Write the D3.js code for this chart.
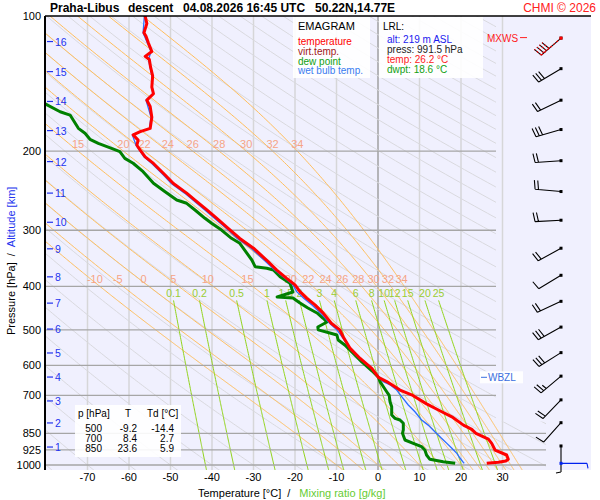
<!DOCTYPE html>
<html>
<head>
<meta charset="utf-8">
<script src="https://cdn.jsdelivr.net/npm/d3@7"></script>
<style>
body { margin: 0; background: #fff; }
svg { font-family: "Liberation Sans", Arial, sans-serif; }
</style>
</head>
<body>
<div class="canvas"></div>
<script>
// sounding: temperature [hPa, °C]
const tempP = [100,104,109,111,115,120,123,125,130,136,144,149,154,159,168,178,181,184,189,194,199,206,213,226,236,248,257,270,282,297,313,329,350,368,384,397,411,425,440,459,484,500,518,550,579,609,638,652,681,700,731,757,781,815,833,850,876,895,926,950,971,980,986,991.5];
const tempT = [-56.1,-55.7,-56.4,-55.9,-55.3,-54.5,-56.1,-55.1,-54.8,-54.3,-54.5,-54.1,-55.7,-54.9,-54.5,-54.9,-57.3,-59.0,-57.8,-58.1,-57.3,-56.1,-54.1,-51.3,-49.3,-46.1,-44.1,-41.3,-38.9,-36.1,-33.3,-30.0,-26.8,-24.4,-22.0,-20.0,-18.8,-17.2,-15.2,-13.2,-11.2,-9.2,-8.4,-6.7,-4.3,-1.5,0.1,2.1,5.3,8.4,11.7,14.9,17.8,20.6,22.6,23.6,26.6,27.4,28.2,31.0,31.4,30.8,29.0,26.2];

// dew point
const dewP = [156.5,163.4,166.2,177.9,182.5,188.2,192.1,197.1,200.5,207.5,212.8,222.2,235.8,246.2,256.9,261.3,270.4,282.2,289.5,299.7,312.7,320.8,340.6,349.5,361.7,364.7,367.9,380.7,393.8,411.8,422.5,424.7,435.7,447,458.6,470.6,480.3,492.8,500,508.2,513.4,526.7,540.4,560,589.6,617.5,637.8,652.3,669.3,686.7,700,722.8,741.6,773.9,787.1,794,807.5,835.7,850,879.6,894.7,910.3,925.9,950,971.2,983.2,991.5];
const dewTd = [-80.4,-76.6,-74.2,-72.2,-70.6,-69.4,-67.4,-64.2,-62.2,-61.0,-59.0,-56.6,-54.1,-51.3,-48.5,-46.1,-44.1,-41.7,-40.1,-37.7,-35.3,-33.3,-31.3,-30.4,-29.6,-26.8,-25.2,-23.6,-21.2,-20.5,-24.3,-20.5,-18.8,-16.9,-14.7,-13.3,-12.3,-14.5,-14.4,-11.6,-9.9,-9.6,-8.0,-6.3,-3.9,-1.4,0.1,0.5,1.3,2.1,2.7,2.9,3.3,3.3,4.1,5.3,6.1,6.1,5.9,6.5,8.5,10.5,11.3,11.7,12.5,15.7,18.6];

// wet bulb temperature
const wbP = [100,109,120,125,136,149,154,168,178,184,194,206,213,226,236,248,257,270,282,297,313,329,350,368,384,397,411,425,440,459,484,500,518,550,579,609,638,652,663,681,704,735,761,794,815,843,872,895,918,942,966,988,991.5];
const wbT = [-56.3,-56.6,-54.7,-55.3,-54.5,-54.3,-55.9,-54.7,-55.1,-59.2,-58.3,-56.4,-54.5,-51.7,-49.8,-46.6,-44.6,-41.8,-39.4,-36.6,-33.9,-30.6,-27.4,-24.9,-22.4,-20.5,-19.6,-17.9,-15.9,-13.8,-11.6,-9.9,-8.7,-6.8,-4.4,-1.6,0.1,1.3,2.9,4.5,5.7,7.3,8.9,10.5,12.1,13.7,15.3,16.6,17.8,19.0,19.8,20.6,20.8];

// wind barbs
const windP = [112,131,154,179,210,246,285,329,378,432,493,562,634,716,805,907];
const windDir = [229,239,244,254,266,275,267,241,239,245,241,238,230,224,222,180];
const windSpd = [40,30,20,30,20,20,20,20,10,20,30,30,25,20,10,5];
const sfcWind = { p: 991.5, dir: 90, spd: 5 };

// altitude marks
const heightKm = [1,2,3,4,5,6,7,8,9,10,11,12,13,14,15,16];
const heightP = [912,806,720,637,563,498,436,381,330,288,248,211,180,155,133,114];

// axis ticks
const pressureTicks = [100,200,300,400,500,600,700,850,925,1000];
const tempTicks = [-70,-60,-50,-40,-30,-20,-10,0,10,20,30];

// thermodynamic background
const dryThetas = d3.range(-80, 330, 10);
const moistThetaW = [-10,-5,0,5,10,15,20,22,24,26,28,30,32,34];
const mixRatios = [0.1,0.2,0.5,1,1.5,2,3,4,6,8,10,12,15,20,25];

// table values
const tableP = [500,700,850];
const tableT = ['-9.2','8.4','23.6'];
const tableTd = ['-14.4','2.7','5.9'];

const svg = d3.select('.canvas')
    .append('svg')
    .attr('width', 600)
    .attr('height', 500);

const x = d3.scaleLinear().domain([-80, 30]).range([46, 502.5]);
const y = d3.scaleLog().domain([100, 1000]).range([16, 465]);

const line = d3.line()
    .x(d => x(d[1]))
    .y(d => y(d[0]));

// physics helpers
const es = t => 6.112 * Math.exp(17.67 * t / (t + 243.5));
const dewFromE = e => { const l = Math.log(e / 6.112); return 243.5 * l / (17.67 - l); };

const moistSlope = (p, T) => {
    const Rd = 287.04, cp = 1005.7, Lv = 2.501e6, eps = 0.622;
    const e = es(T - 273.15);
    const rs = eps * e / (p - e);
    const num = Rd * T + Lv * rs;
    const den = cp + Lv * Lv * rs * eps / (Rd * T * T);
    return num / (p * den);
};

const moistLine = (thw) => {
    const step = 2;
    const up = [];
    let T = thw + 273.15;
    for (let p = 1000; p >= 100; p -= step) {
        up.push([p, T - 273.15]);
        const k1 = moistSlope(p, T);
        const k2 = moistSlope(p - step / 2, T - step / 2 * k1);
        T = T - step * k2;
    }
    const down = [];
    T = thw + 273.15;
    for (let p = 1000; p <= 1040; p += step) {
        const k1 = moistSlope(p, T);
        const k2 = moistSlope(p + step / 2, T + step / 2 * k1);
        T = T + step * k2;
        down.push([p + step, T - 273.15]);
    }
    return down.reverse().concat(up);
};

const tAt = (pts, p) => {
    for (let i = 0; i < pts.length - 1; i++) {
        const a = pts[i], b = pts[i + 1];
        if ((a[0] - p) * (b[0] - p) <= 0) {
            const f = (p - a[0]) / (b[0] - a[0]);
            return a[1] + f * (b[1] - a[1]);
        }
    }
    return null;
};

// plot background
svg.append('rect')
    .attr('x', 45).attr('y', 16)
    .attr('width', 546).attr('height', 454)
    .attr('fill', '#f0f0fe');

const defs = svg.append('defs');
defs.append('clipPath').attr('id', 'diag')
    .append('polygon')
    .attr('points', `45,16 496,16 496,${y(800)} 546,${y(800)} 546,470 45,470`);
defs.append('clipPath').attr('id', 'plot')
    .append('rect')
    .attr('x', 45).attr('y', 16).attr('width', 546).attr('height', 454);

// isotherms
svg.append('g').selectAll('line')
    .data(tempTicks)
    .enter().append('line')
        .attr('x1', d => x(d)).attr('x2', d => x(d))
        .attr('y1', 16).attr('y2', 470)
        .attr('stroke', d => d === 0 ? '#a0a0a0' : '#d6d6d8')
        .attr('stroke-width', 1.5);

const diag = svg.append('g').attr('clip-path', 'url(#diag)');

// dry adiabats
diag.selectAll('.dry')
    .data(dryThetas)
    .enter().append('path')
        .attr('class', 'dry')
        .attr('d', th => line(d3.range(90, 1045, 5).map(p => [p, (th + 273.15) * Math.pow(p / 1000, 0.2857) - 273.15])))
        .attr('fill', 'none')
        .attr('stroke', '#d9d9de')
        .attr('stroke-width', 1);

// moist adiabats
const moistLines = moistThetaW.map(moistLine);
diag.selectAll('.moist')
    .data(moistLines)
    .enter().append('path')
        .attr('class', 'moist')
        .attr('d', line)
        .attr('fill', 'none')
        .attr('stroke', '#ffbe5c')
        .attr('stroke-width', 1);

// mixing ratio lines
const mixLines = mixRatios.map(w => d3.range(430, 1045, 5).map(p => [p, dewFromE(w * p / (622 + w))]));
diag.selectAll('.mix')
    .data(mixLines)
    .enter().append('path')
        .attr('class', 'mix')
        .attr('d', line)
        .attr('fill', 'none')
        .attr('stroke', '#92d41c')
        .attr('stroke-width', 1);

// isobars
svg.append('g').selectAll('line')
    .data(pressureTicks.slice(1))
    .enter().append('line')
        .attr('x1', 45)
        .attr('x2', d => d >= 850 ? 546 : 496)
        .attr('y1', d => y(d)).attr('y2', d => y(d))
        .attr('stroke', '#a6a6a6')
        .attr('stroke-width', 1.3);

// moist adiabat labels: two rows, sitting on the 200 and 400 hPa isobars
const labelRows = [[200, 200], [392, 400]];
labelRows.forEach(([lp, rowP]) => {
    moistThetaW.forEach((thw, i) => {
        const t = tAt(moistLines[i], lp);
        if (t === null || x(t) < 55 || x(t) > 496) return;
        svg.append('text')
            .attr('x', x(t)).attr('y', y(rowP) - 3)
            .attr('text-anchor', 'middle')
            .attr('font-size', 11)
            .attr('fill', '#f6a486')
            .text(thw);
    });
});

// mixing ratio labels
svg.append('g').selectAll('text')
    .data(mixRatios)
    .enter().append('text')
        .attr('x', (w, i) => x(mixLines[i][0][1]))
        .attr('y', y(430) - 3)
        .attr('text-anchor', 'middle')
        .attr('font-size', 10.5)
        .attr('fill', '#9acd32')
        .text(d => d);

// profiles
const prof = svg.append('g').attr('clip-path', 'url(#plot)');
prof.append('path')
    .attr('d', line(dewP.map((p, i) => [p, dewTd[i]])))
    .attr('fill', 'none').attr('stroke', '#008000').attr('stroke-width', 3)
    .attr('stroke-linejoin', 'round');
prof.append('path')
    .attr('d', line(wbP.map((p, i) => [p, wbT[i]])))
    .attr('fill', 'none').attr('stroke', '#2a6cff').attr('stroke-width', 1.3);
prof.append('path')
    .attr('d', line(tempP.map((p, i) => [p, tempT[i]])))
    .attr('fill', 'none').attr('stroke', '#ff0000').attr('stroke-width', 3)
    .attr('stroke-linejoin', 'round');

// frame
svg.append('line').attr('x1', 45).attr('x2', 591).attr('y1', 16).attr('y2', 16)
    .attr('stroke', '#000').attr('stroke-width', 1.5);
svg.append('line').attr('x1', 45).attr('x2', 45).attr('y1', 16).attr('y2', 470)
    .attr('stroke', '#000').attr('stroke-width', 2);

// pressure labels
svg.append('g').selectAll('text')
    .data(pressureTicks)
    .enter().append('text')
        .attr('x', 41).attr('y', d => y(d) + 4)
        .attr('text-anchor', 'end')
        .attr('font-size', 11)
        .text(d => d);

// temperature labels
svg.append('g').selectAll('text')
    .data(tempTicks)
    .enter().append('text')
        .attr('x', d => x(d)).attr('y', 481)
        .attr('text-anchor', 'middle')
        .attr('font-size', 11)
        .text(d => d);

// altitude marks
const km = svg.append('g');
km.selectAll('line')
    .data(heightP)
    .enter().append('line')
        .attr('x1', 47).attr('x2', 53)
        .attr('y1', d => y(d)).attr('y2', d => y(d))
        .attr('stroke', '#2233ee').attr('stroke-width', 1.2);
km.selectAll('text')
    .data(heightKm)
    .enter().append('text')
        .attr('x', 55).attr('y', (d, i) => y(heightP[i]) + 4)
        .attr('font-size', 10.5)
        .attr('fill', '#2233ee')
        .text(d => d);

// wind barbs
const barbX = 561;
const drawBarb = (p, dir, spd, color, dash) => {
    const x0 = barbX, y0 = y(p);
    const r = dir * Math.PI / 180;
    const ux = Math.sin(r), uy = -Math.cos(r);
    const fx = -uy, fy = ux;
    const L = 26;
    const ex = x0 + L * ux, ey = y0 + L * uy;
    let d = `M${x0},${y0}L${ex},${ey}`;
    const n10 = Math.floor(spd / 10);
    const n5 = spd % 10 >= 5;
    let pos = 0;
    for (let i = 0; i < n10; i++) {
        const bx = ex - pos * ux, by = ey - pos * uy;
        d += `M${bx},${by}l${fx * 9 + ux * 1.5},${fy * 9 + uy * 1.5}`;
        pos += 3.4;
    }
    if (n5) {
        const bx = ex - pos * ux, by = ey - pos * uy;
        d += `M${bx},${by}l${fx * 5 + ux},${fy * 5 + uy}`;
    }
    const g = svg.append('g');
    g.append('path').attr('d', d).attr('fill', 'none')
        .attr('stroke', color).attr('stroke-width', 1.1)
        .attr('stroke-dasharray', dash || null);
    g.append('rect').attr('x', x0 - 1.5).attr('y', y0 - 1.5)
        .attr('width', 3).attr('height', 3).attr('fill', color);
};
windP.forEach((p, i) => drawBarb(p, windDir[i], windSpd[i], '#000'));
drawBarb(windP[0], windDir[0], windSpd[0], '#ff0000', '2,2');
drawBarb(sfcWind.p, sfcWind.dir, sfcWind.spd, '#0022ee');

// MXWS marker
svg.append('text').attr('x', 487).attr('y', y(windP[0]) + 4)
    .attr('font-size', 10).attr('fill', '#ff2020').text('MXWS');
svg.append('line').attr('x1', 520).attr('x2', 527)
    .attr('y1', y(windP[0]) - 0.5).attr('y2', y(windP[0]) - 0.5)
    .attr('stroke', '#ff2020');

// WBZL marker
const wbzl = 637.8;
svg.append('rect').attr('x', 480).attr('y', y(wbzl) - 6)
    .attr('width', 43).attr('height', 12).attr('fill', '#fff').attr('opacity', 0.9);
svg.append('line').attr('x1', 481).attr('x2', 487)
    .attr('y1', y(wbzl)).attr('y2', y(wbzl))
    .attr('stroke', '#3a6ee0');
svg.append('text').attr('x', 488).attr('y', y(wbzl) + 4)
    .attr('font-size', 10).attr('fill', '#3a6ee0').text('WBZL');

// legend box
svg.append('rect').attr('x', 293).attr('y', 17).attr('width', 77).attr('height', 61)
    .attr('fill', '#fff').attr('opacity', 0.9);
svg.append('text').attr('x', 298).attr('y', 30).attr('font-size', 11).text('EMAGRAM');
const legendNames = ['temperature', 'virt.temp.', 'dew point', 'wet bulb temp.'];
const legendColors = ['#ff0000', '#a01818', '#10a010', '#3a7cf0'];
svg.append('g').selectAll('text')
    .data(legendNames)
    .enter().append('text')
        .attr('x', 298).attr('y', (d, i) => 45 + i * 9.8)
        .attr('font-size', 10)
        .attr('fill', (d, i) => legendColors[i])
        .text(d => d);

// LRL box
svg.append('rect').attr('x', 379).attr('y', 17).attr('width', 104).attr('height', 61)
    .attr('fill', '#fff').attr('opacity', 0.9);
svg.append('text').attr('x', 383).attr('y', 30).attr('font-size', 10).text('LRL:');
const lrlText = ['alt: 219 m ASL', 'press: 991.5 hPa', 'temp: 26.2 °C', 'dwpt: 18.6 °C'];
const lrlColors = ['#1a1aee', '#222', '#ff2020', '#10a010'];
svg.append('g').selectAll('text')
    .data(lrlText)
    .enter().append('text')
        .attr('x', 387).attr('y', (d, i) => 42.5 + i * 10)
        .attr('font-size', 10)
        .attr('fill', (d, i) => lrlColors[i])
        .text(d => d);

// level table
svg.append('rect').attr('x', 75).attr('y', 405).attr('width', 106).attr('height', 52)
    .attr('fill', '#fff').attr('opacity', 0.9);
const tbl = svg.append('g').attr('font-size', 10);
tbl.append('text').attr('x', 78).attr('y', 417).text('p [hPa]');
tbl.append('text').attr('x', 125).attr('y', 417).text('T');
tbl.append('text').attr('x', 147).attr('y', 417).text('Td [°C]');
tableP.forEach((p, i) => {
    const yy = 432 + i * 10;
    tbl.append('text').attr('x', 102).attr('y', yy).attr('text-anchor', 'end').text(p);
    tbl.append('text').attr('x', 137).attr('y', yy).attr('text-anchor', 'end').text(tableT[i]);
    tbl.append('text').attr('x', 174).attr('y', yy).attr('text-anchor', 'end').text(tableTd[i]);
});

// title
const title = svg.append('g').attr('font-size', 12).attr('font-weight', 'bold');
title.append('text').attr('x', 50).attr('y', 12).text('Praha-Libus');
title.append('text').attr('x', 128).attr('y', 12).text('descent');
title.append('text').attr('x', 183).attr('y', 12).text('04.08.2026 16:45 UTC');
title.append('text').attr('x', 315).attr('y', 12).text('50.22N,14.77E');
svg.append('text').attr('x', 596).attr('y', 12).attr('text-anchor', 'end')
    .attr('font-size', 12).attr('fill', '#ff2020').text('CHMI © 2026');

// axis titles
const xt = svg.append('text').attr('x', 198).attr('y', 497).attr('font-size', 11);
xt.append('tspan').text('Temperature [°C]');
xt.append('tspan').attr('dx', 6).text('/');
xt.append('tspan').attr('dx', 9).attr('fill', '#66cc33').text('Mixing ratio [g/kg]');

const yt = svg.append('text')
    .attr('transform', 'translate(15,335) rotate(-90)')
    .attr('font-size', 11);
yt.append('tspan').text('Pressure [hPa]');
yt.append('tspan').attr('dx', 6).text('/');
yt.append('tspan').attr('dx', 6).attr('fill', '#2233ee').text('Altitude [km]');
</script>
</body>
</html>
